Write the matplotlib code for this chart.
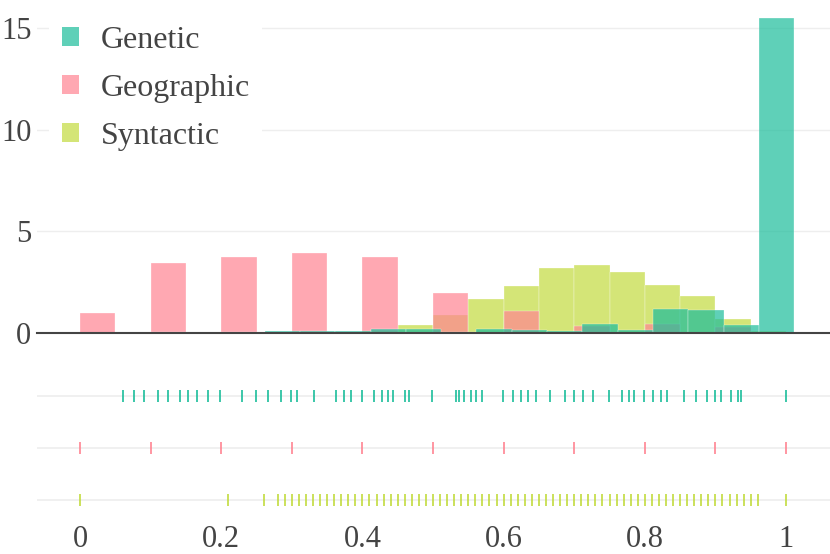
import numpy as np
import matplotlib
matplotlib.use('Agg')
import matplotlib.pyplot as plt
from matplotlib.font_manager import FontProperties
from matplotlib.patches import Patch

plt.rcParams['font.family'] = ['Liberation Serif', 'DejaVu Serif']
plt.rcParams['font.size'] = 22
FONT = 'Liberation Serif'

names = ['Genetic', 'Geographic', 'Syntactic']
colors = ['#1bbd9b', '#ff8492', '#c2db3e']
bin_size = 0.05

# histogram bins (probability density)
genetic_start = 0.0616
genetic_hist = [0.05, 0.05, 0.05, 0.05, 0.08, 0.08, 0.10, 0.18, 0.21, 0.05,
                0.20, 0.15, 0.12, 0.43, 0.16, 1.19, 1.15, 0.38, 15.52]
geographic_start = 0.0
geographic_hist = [0.98, 0, 3.47, 0, 3.76, 0, 3.92, 0, 3.76, 0,
                   1.95, 0, 1.07, 0, 0.36, 0, 0.43, 0, 0.30, 0.05]
syntactic_start = 0.0
syntactic_hist = [0.02, 0, 0, 0, 0.02, 0.05, 0.06, 0.06, 0.08, 0.38,
                  0.88, 1.67, 2.33, 3.18, 3.37, 3.02, 2.36, 1.80, 0.69, 0.10]

# rug values
genetic_rug = [0.061, 0.077, 0.091, 0.111, 0.125, 0.142, 0.153, 0.166, 0.181, 0.199,
               0.230, 0.249, 0.266, 0.285, 0.299, 0.307, 0.332, 0.363, 0.374, 0.384,
               0.399, 0.416, 0.428, 0.436, 0.443, 0.460, 0.466,
               0.499, 0.532, 0.537, 0.544, 0.554, 0.561, 0.570, 0.599, 0.614, 0.624,
               0.635, 0.646, 0.666, 0.687, 0.699, 0.713, 0.726, 0.749, 0.768, 0.777,
               0.785, 0.799, 0.812, 0.823, 0.832, 0.856, 0.873, 0.888, 0.899, 0.908,
               0.922, 0.932, 0.936, 1.0]
geographic_rug = [0.0, 0.1, 0.2, 0.3, 0.4, 0.5, 0.6, 0.7, 0.8, 0.9, 1.0]
syntactic_rug = [0.0, 0.21, 0.26,
                 0.28, 0.29, 0.30, 0.31, 0.32, 0.33, 0.34, 0.35, 0.36, 0.37,
                 0.38, 0.39, 0.40, 0.41, 0.42, 0.43, 0.44, 0.45, 0.46, 0.47,
                 0.48, 0.49, 0.50, 0.51, 0.52, 0.53, 0.54, 0.55, 0.56, 0.57,
                 0.58, 0.59, 0.60, 0.61, 0.62, 0.63, 0.64, 0.65, 0.66, 0.67,
                 0.68, 0.69, 0.70, 0.71, 0.72, 0.73, 0.74, 0.75, 0.76, 0.77,
                 0.78, 0.79, 0.80, 0.81, 0.82, 0.83, 0.84, 0.85, 0.86, 0.87,
                 0.88, 0.89, 0.90, 0.91, 0.92, 0.93, 0.94, 0.95, 0.96, 1.0]

hists = [(genetic_start, genetic_hist), (geographic_start, geographic_hist),
         (syntactic_start, syntactic_hist)]
rugs = [genetic_rug, geographic_rug, syntactic_rug]

W, H = 830, 554
fig = plt.figure(figsize=(W / 100, H / 100), dpi=100)
xlim = (-0.0609, 1.0623)

ax = fig.add_axes([37 / W, (H - 333) / H, (W - 37) / W, 333 / H])
# last trace goes at the bottom, first on top
for k in [2, 1, 0]:
    start, h = hists[k]
    h = np.array(h)
    lefts = start + bin_size * np.arange(len(h))
    ax.bar(lefts, h, width=bin_size, align='edge', color=colors[k], alpha=0.7,
           edgecolor='white', linewidth=0.3)
ax.set_xlim(*xlim)
ax.set_ylim(0, 16.4)
ax.set_yticks([0, 5, 10, 15])
ax.set_yticklabels(['0', '5', '10', '15'], family=FONT, fontsize=22)
ax.set_xticks([])
ax.grid(axis='y', color='#eeeeee', linewidth=1)
ax.set_axisbelow(True)
ax.axhline(0, color='#444444', linewidth=1.5, clip_on=False, zorder=5)
ax.tick_params(axis='y', length=0, pad=4, colors='#444444')
for s in ax.spines.values():
    s.set_visible(False)

rax = fig.add_axes([37 / W, (H - 524) / H, (W - 37) / W, 154 / H])
for i, (r, c) in enumerate(zip(rugs, colors)):
    rax.plot(r, [i] * len(r), linestyle='none', marker='|', markersize=8.8,
             markeredgewidth=1.2, color=c, alpha=1.0)
rax.set_xlim(*xlim)
rax.set_ylim(2.46, -0.5)
rax.set_yticks([0, 1, 2])
rax.set_yticklabels([])
rax.grid(axis='y', color='#eeeeee', linewidth=1.2)
rax.set_axisbelow(True)
rax.set_xticks([0, 0.2, 0.4, 0.6, 0.8, 1])
rax.set_xticklabels(['0', '0.2', '0.4', '0.6', '0.8', '1'], family=FONT, fontsize=22)
rax.tick_params(length=0, pad=1, colors='#444444')
for s in rax.spines.values():
    s.set_visible(False)

handles = [Patch(facecolor=c, alpha=0.7, edgecolor='none') for c in colors]
leg = fig.legend(handles, names, loc='upper left', bbox_to_anchor=(49 / W, 1 - 13 / H),
                 borderaxespad=0, borderpad=0.4, handlelength=0.53, handleheight=0.53,
                 handletextpad=0.68, labelspacing=0.6, frameon=True, fancybox=False,
                 labelcolor='#444444', prop=FontProperties(family=FONT, size=23))
leg.get_frame().set_facecolor('white')
leg.get_frame().set_edgecolor('none')
leg.get_frame().set_alpha(1)

fig.savefig('out.png', dpi=100)
